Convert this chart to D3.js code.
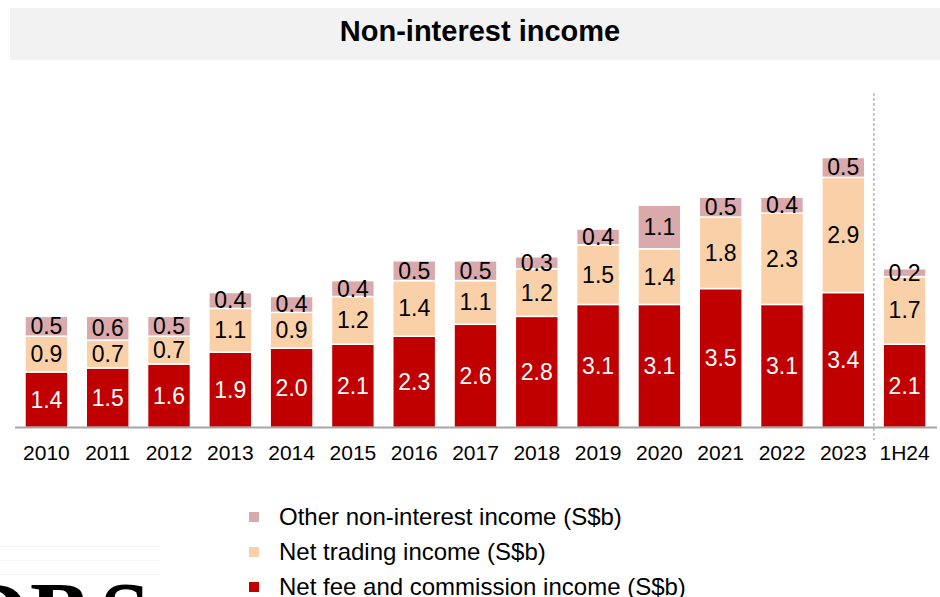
<!DOCTYPE html>
<html>
<head>
<meta charset="utf-8">
<script src="https://cdn.jsdelivr.net/npm/d3@7"></script>
<style>
  body { margin: 0; background: #fff; }
  svg { display: block; font-family: "Liberation Sans", Arial, sans-serif; }
</style>
</head>
<body>
<div id="chart"></div>
<script>
// chart data (S$b)
var periods = ["2010", "2011", "2012", "2013", "2014", "2015", "2016", "2017", "2018", "2019", "2020", "2021", "2022", "2023", "1H24"];
var feeIncome = [1.4, 1.5, 1.6, 1.9, 2.0, 2.1, 2.3, 2.6, 2.8, 3.1, 3.1, 3.5, 3.1, 3.4, 2.1];
var tradingIncome = [0.9, 0.7, 0.7, 1.1, 0.9, 1.2, 1.4, 1.1, 1.2, 1.5, 1.4, 1.8, 2.3, 2.9, 1.7];
var otherIncome = [0.5, 0.6, 0.5, 0.4, 0.4, 0.4, 0.5, 0.5, 0.3, 0.4, 1.1, 0.5, 0.4, 0.5, 0.2];
var seriesNames = ["Net fee and commission income (S$b)", "Net trading income (S$b)", "Other non-interest income (S$b)"];

var svgWidth = 940;
var svgHeight = 597;

var colors = {
    fee: "#c00000",
    trading: "#fad0a8",
    other: "#daa9ab"
};

var svg = d3.select("#chart")
    .append("svg")
    .attr("width", svgWidth)
    .attr("height", svgHeight);

// title banner
svg.append("rect")
    .attr("x", 10)
    .attr("y", 8)
    .attr("width", 930)
    .attr("height", 52)
    .attr("fill", "#f2f2f2");

svg.append("text")
    .attr("x", 480)
    .attr("y", 41)
    .attr("text-anchor", "middle")
    .style("font-size", "29px")
    .style("font-weight", "bold")
    .attr("fill", "#000")
    .text("Non-interest income");

// build table for the stack
var table = periods.map(function (p, i) {
    return { period: p, fee: feeIncome[i], trading: tradingIncome[i], other: otherIncome[i] };
});
var keys = ["fee", "trading", "other"];
var stacked = d3.stack().keys(keys)(table);

var xScale = d3.scaleBand()
    .domain(periods)
    .range([12.7, 938.3])
    .paddingInner(0.3)
    .paddingOuter(0.2);

var baseY = 427.5;
var yScale = d3.scaleLinear()
    .domain([0, 7])
    .range([baseY, baseY - 7 * 39.7]);

// separator before the half-year bar
var sepX = (xScale("2023") + xScale.bandwidth() + xScale("1H24")) / 2;
svg.append("line")
    .attr("x1", sepX)
    .attr("x2", sepX)
    .attr("y1", 93)
    .attr("y2", 440)
    .attr("stroke", "#a6a6a6")
    .attr("stroke-width", 1.2)
    .attr("stroke-dasharray", "3,2");

// stacked bars
var layers = svg.selectAll("g.layer")
    .data(stacked)
    .enter().append("g")
    .attr("class", "layer")
    .attr("fill", d => colors[d.key]);

layers.selectAll("rect")
    .data(d => d)
    .enter().append("rect")
    .attr("x", d => xScale(d.data.period))
    .attr("y", d => yScale(d[1]))
    .attr("width", xScale.bandwidth())
    .attr("height", d => yScale(d[0]) - yScale(d[1]))
    .attr("stroke", "#fff")
    .attr("stroke-width", 1.5);

// value labels
layers.selectAll("text")
    .data(function (d) { return d.map(function (v) { v.key = d.key; return v; }); })
    .enter().append("text")
    .attr("x", d => xScale(d.data.period) + xScale.bandwidth() / 2)
    .attr("y", d => (yScale(d[0]) + yScale(d[1])) / 2 + 8)
    .attr("text-anchor", "middle")
    .style("font-size", "23px")
    .attr("fill", d => d.key === "fee" ? "#fff" : "#000")
    .text(d => (d[1] - d[0]).toFixed(1));

// x axis
var bottomAxis = d3.axisBottom(xScale).tickSize(0).tickPadding(18);
var axisG = svg.append("g")
    .attr("transform", "translate(0," + baseY + ")")
    .call(bottomAxis);
axisG.select(".domain")
    .attr("d", "M15,0H937")
    .attr("stroke", "#a6a6a6")
    .attr("stroke-width", 2);
axisG.selectAll("text")
    .style("font-size", "21px")
    .style("font-family", "'Liberation Sans', Arial, sans-serif")
    .attr("fill", "#000");

// legend
var legendItems = [
    { name: seriesNames[2], key: "other" },
    { name: seriesNames[1], key: "trading" },
    { name: seriesNames[0], key: "fee" }
];
var legend = svg.selectAll("g.legend")
    .data(legendItems)
    .enter().append("g")
    .attr("class", "legend")
    .attr("transform", (d, i) => "translate(249," + (517 + i * 35) + ")");

legend.append("rect")
    .attr("x", 0)
    .attr("y", -5)
    .attr("width", 10)
    .attr("height", 10)
    .attr("fill", d => colors[d.key]);

legend.append("text")
    .attr("x", 30)
    .attr("y", 8)
    .style("font-size", "24px")
    .attr("fill", "#000")
    .text(d => d.name);

// logo fragment at the bottom left
[546, 560, 574].forEach(function (ly) {
    svg.append("rect")
        .attr("x", 0)
        .attr("y", ly)
        .attr("width", 160)
        .attr("height", 1)
        .attr("fill", "#f6f6f6");
});
var logo = svg.append("text")
    .attr("y", 645)
    .style("font-family", "'Liberation Serif', 'Times New Roman', serif")
    .style("font-weight", "bold")
    .style("font-size", "90px")
    .attr("fill", "#000");
logo.append("tspan").attr("x", -36).text("D");
logo.append("tspan").attr("x", 30).text("B");
logo.append("tspan").attr("x", 100).text("S");
</script>
</body>
</html>
